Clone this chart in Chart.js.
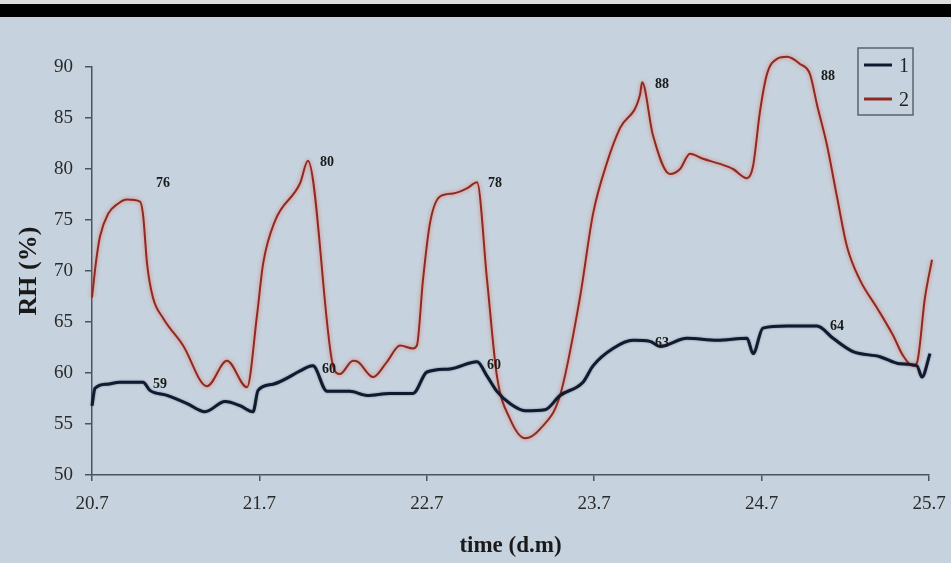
<!DOCTYPE html>
<html>
<head>
<meta charset="utf-8">
<script src="https://cdn.jsdelivr.net/npm/chart.js@4.4.0/dist/chart.umd.min.js"></script>
<style>
  html, body { margin: 0; padding: 0; }
  body { width: 951px; height: 563px; background: #c6d3de; position: relative; overflow: hidden; }
  #topGray { position: absolute; left: 0; top: 0; width: 951px; height: 4px; background: #dcdcdc; }
  #topBand { position: absolute; left: 0; top: 4px; width: 951px; height: 13px; background: #000; }
  #rhChart { position: absolute; left: 0; top: 0; }
</style>
</head>
<body>
<div id="topGray"></div>
<div id="topBand"></div>
<canvas id="rhChart" width="951" height="563"></canvas>
<script>
// x = days after 20.7
const xTickLabels = ['20.7', '21.7', '22.7', '23.7', '24.7', '25.7'];

const series2X = [0, 0.024, 0.048, 0.096, 0.155, 0.209, 0.287, 0.305, 0.329, 0.364, 0.424, 0.544, 0.687, 0.806, 0.926, 0.986,
    1.022, 1.093, 1.243, 1.29, 1.44, 1.481, 1.559, 1.589, 1.679, 1.762, 1.84, 1.918, 1.941, 1.977,
    2.019, 2.079, 2.157, 2.24, 2.3, 2.36, 2.419, 2.497, 2.587, 2.676, 2.796, 2.915, 2.993,
    3.076, 3.154, 3.274, 3.286, 3.351, 3.453, 3.513, 3.572, 3.65, 3.751, 3.829, 3.913, 3.949, 3.99,
    4.032, 4.092, 4.152, 4.229, 4.289, 4.331, 4.391, 4.45, 4.51, 4.588, 4.689, 4.785, 4.845, 4.904, 4.928, 4.976, 5.018];
const series2Y = [67.4, 70.9, 73.4, 75.6, 76.6, 77.0, 76.8, 75.5, 70.7, 67.4, 65.4, 62.7, 58.7, 61.2, 58.6, 65.7,
    70.7, 74.9, 78.6, 80.8, 60.7, 59.9, 61.2, 61.1, 59.6, 61.1, 62.7, 62.4, 62.7, 69.1,
    74.7, 77.3, 77.6, 78.1, 78.7, 69.1, 59.7, 55.5, 53.6, 54.5, 57.8, 67.4, 75.6,
    80.6, 84.0, 87.3, 88.5, 83.3, 79.5, 80.0, 81.5, 81.0, 80.5, 80.0, 79.1, 80.3, 85.6,
    89.3, 90.8, 91.0, 90.3, 89.3, 86.3, 82.3, 77.3, 72.4, 69.1, 66.4, 63.7, 61.7, 60.7, 61.0, 67.4, 71.1];

const series1X = [0, 0.018, 0.09, 0.167, 0.305, 0.346, 0.448, 0.568, 0.675, 0.795, 0.884, 0.962, 0.992,
    1.081, 1.243, 1.29, 1.32, 1.404, 1.541, 1.643, 1.78, 1.918,
    2.001, 2.139, 2.3, 2.36, 2.419, 2.497, 2.587, 2.706, 2.796, 2.933, 2.993,
    3.112, 3.232, 3.333, 3.393, 3.554, 3.734, 3.913, 3.949,
    4.008, 4.152, 4.331, 4.427, 4.546, 4.707, 4.827, 4.928, 4.958, 5.006];
const series1Y = [56.8, 58.5, 58.9, 59.1, 59.1, 58.3, 57.8, 57.0, 56.2, 57.2, 56.8, 56.2, 58.3,
    58.9, 60.2, 60.6, 60.7, 58.2, 58.2, 57.8, 58.0, 58.0,
    60.1, 60.4, 61.1, 59.7, 58.2, 57.0, 56.3, 56.4, 57.8, 59.1, 60.7,
    62.4, 63.2, 63.1, 62.6, 63.4, 63.2, 63.4, 61.9,
    64.4, 64.6, 64.6, 63.4, 62.1, 61.6, 60.9, 60.7, 59.6, 61.9];

const peakText = ['76', '59', '80', '60', '78', '60', '88', '63', '88', '64'];
const peakX = [0.424, 0.406, 1.404, 1.416, 2.407, 2.401, 3.405, 3.405, 4.397, 4.45];
const peakY = [78.6, 58.9, 80.6, 60.4, 78.6, 60.7, 88.3, 62.9, 89.1, 64.6];

const seriesNames = ['1', '2'];
const lineColors = ['#121a30', '#8e2a22'];

function toPoints(xs, ys) {
    return xs.map((x, i) => ({ x: x, y: ys[i] }));
}

const serif = "'Liberation Serif', 'Times New Roman', serif";

const extras = {
    id: 'extras',
    beforeDatasetDraw(chart, args) {
        const ctx = chart.ctx;
        ctx.save();
        if (args.index === 1) {
            ctx.shadowColor = 'rgba(235, 90, 70, 0.75)';
            ctx.shadowBlur = 4;
        } else {
            ctx.shadowColor = 'rgba(20, 30, 60, 0.5)';
            ctx.shadowBlur = 2;
        }
    },
    afterDatasetDraw(chart) {
        chart.ctx.restore();
    },
    afterDraw(chart) {
        const ctx = chart.ctx;
        const xs = chart.scales.x;
        const ys = chart.scales.y;
        const area = chart.chartArea;
        ctx.save();
        // peak labels
        ctx.font = "bold 14px " + serif;
        ctx.fillStyle = '#1a1a1a';
        ctx.textAlign = 'center';
        ctx.textBaseline = 'middle';
        peakText.forEach((t, i) => {
            ctx.fillText(t, xs.getPixelForValue(peakX[i]), ys.getPixelForValue(peakY[i]));
        });
        // legend box
        const bx = area.right - 71, by = area.top - 19, bw = 55, bh = 67;
        ctx.strokeStyle = '#5a6470';
        ctx.lineWidth = 1.5;
        ctx.strokeRect(bx, by, bw, bh);
        ctx.font = "20px " + serif;
        ctx.textAlign = 'left';
        seriesNames.forEach((name, i) => {
            const ly = by + 17 + i * 34;
            ctx.strokeStyle = lineColors[i];
            ctx.lineWidth = 3;
            ctx.beginPath();
            ctx.moveTo(bx + 6, ly);
            ctx.lineTo(bx + 34, ly);
            ctx.stroke();
            ctx.fillStyle = '#222';
            ctx.fillText(name, bx + 41, ly + 2);
        });
        ctx.restore();
    }
};

new Chart(document.getElementById('rhChart'), {
    type: 'line',
    data: {
        datasets: [{
            label: seriesNames[0],
            data: toPoints(series1X, series1Y),
            borderColor: lineColors[0],
            borderWidth: 3,
            pointRadius: 0,
            cubicInterpolationMode: 'monotone',
            clip: false
        }, {
            label: seriesNames[1],
            data: toPoints(series2X, series2Y),
            borderColor: lineColors[1],
            borderWidth: 2,
            pointRadius: 0,
            cubicInterpolationMode: 'monotone',
            clip: false
        }]
    },
    options: {
        responsive: false,
        animation: false,
        layout: { padding: { left: 0, top: 67, right: 22, bottom: 0 } },
        plugins: {
            legend: { display: false },
            tooltip: { enabled: false }
        },
        scales: {
            x: {
                type: 'linear',
                min: 0,
                max: 5,
                afterFit(scale) {
                    scale.height = 88;
                    scale.paddingLeft = 0;
                    scale.paddingRight = 0;
                },
                border: { color: '#4a5460', width: 1.5 },
                grid: { drawOnChartArea: false, tickLength: 6, color: '#4a5460', lineWidth: 1.5 },
                ticks: {
                    stepSize: 1,
                    autoSkip: false,
                    maxRotation: 0,
                    padding: 12,
                    color: '#2a2a2a',
                    font: { family: serif, size: 19 },
                    callback: (v) => xTickLabels[v]
                },
                title: {
                    display: true,
                    text: 'time (d.m)',
                    color: '#1a1a1a',
                    font: { family: serif, size: 23, weight: 'bold' },
                    padding: { top: 3, bottom: 3 }
                }
            },
            y: {
                min: 50,
                max: 90,
                afterFit(scale) {
                    scale.width = 92;
                    scale.paddingTop = 0;
                    scale.paddingBottom = 0;
                },
                border: { color: '#4a5460', width: 1.5 },
                grid: { drawOnChartArea: false, tickLength: 7, color: '#4a5460', lineWidth: 1.5 },
                ticks: {
                    stepSize: 5,
                    padding: 12,
                    color: '#2a2a2a',
                    font: { family: serif, size: 19 }
                },
                title: {
                    display: true,
                    text: 'RH (%)',
                    color: '#1a1a1a',
                    font: { family: serif, size: 26, weight: 'bold' },
                    padding: { top: 14, bottom: 0 }
                }
            }
        }
    },
    plugins: [extras]
});
</script>
</body>
</html>
